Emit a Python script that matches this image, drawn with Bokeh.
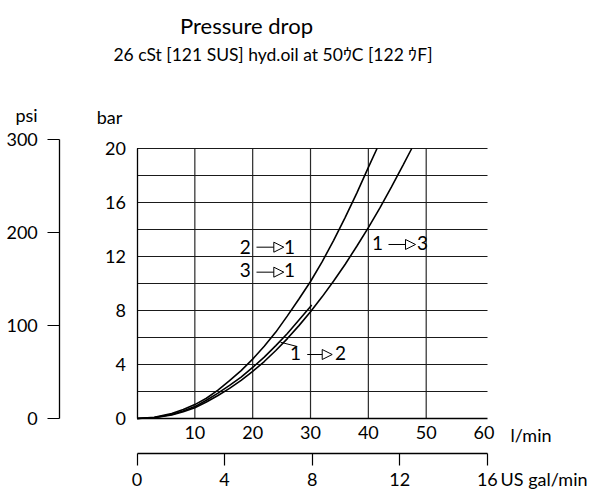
from bokeh.plotting import figure
from bokeh.models import Range1d, LinearAxis, FixedTicker, Label, Arrow, NormalHead
from bokeh.embed import file_html
from bokeh.resources import INLINE

FONT = "Lato"

title_text = "Pressure drop"
subtitle_text = "26 cSt [121 SUS] hyd.oil at 50ｳC [122 ｳF]"

# Flow (l/min) vs pressure drop (bar)
flow_2_1 = [0, 3, 6, 8, 10, 12, 14, 16, 18, 20, 22, 24, 26, 28, 30, 32, 34, 36, 38, 40, 41.5]
dp_2_1 = [0, 0.09, 0.37, 0.66, 1.03, 1.5, 2.1, 2.8, 3.55, 4.4, 5.35, 6.4, 7.6, 8.85, 10.15,
          11.6, 13.2, 14.9, 16.7, 18.6, 20]

flow_1_2 = [0, 3, 6, 8, 10, 12, 14, 16, 18, 20, 22, 24, 26, 28, 30, 30.2]
dp_1_2 = [0, 0.07, 0.3, 0.55, 0.88, 1.35, 1.88, 2.45, 3.07, 3.78, 4.55, 5.4, 6.3, 7.3, 8.3, 8.4]

flow_1_3 = [0, 3, 6, 8, 10, 12, 14, 16, 18, 20, 22, 24, 26, 28, 30, 32, 34, 36, 38, 40, 42, 44, 46, 47.5]
dp_1_3 = [0, 0.06, 0.26, 0.5, 0.8, 1.22, 1.7, 2.23, 2.82, 3.49, 4.22, 5.04, 5.92, 6.88, 7.91,
          9.01, 10.19, 11.43, 12.76, 14.14, 15.6, 17.15, 18.77, 20]

lmin_ticks = [10, 20, 30, 40, 50, 60]
bar_ticks = [0, 4, 8, 12, 16, 20]
psi_ticks = [0, 100, 200, 300]
gal_ticks = [0, 4, 8, 12, 16]
vgrid_ticks = [10, 20, 30, 40, 50]
hgrid_ticks = [2, 4, 6, 8, 10, 12, 14, 16, 18, 20]

L_PER_GAL = 3.785411784
PSI_PER_BAR = 14.5038

# plot area extent (l/min, bar)
X_END = 60.6
Y_END = 20
# visible window around the plot area, in data units
X_LO, X_HI = -23.6, 78.925
Y_LO, Y_HI = -5.4815, 30.963

W, H = 593, 492
PX_PER_BAR = H / (Y_HI - Y_LO)

p = figure(width=W, height=H, output_backend="svg", toolbar_location=None,
           x_range=Range1d(X_LO, X_HI), y_range=Range1d(Y_LO, Y_HI),
           min_border=0, min_border_left=0, min_border_right=0, min_border_top=0, min_border_bottom=0,
           x_axis_location=None, y_axis_location=None, title=None)
p.outline_line_color = None
p.background_fill_color = "white"
p.border_fill_color = "white"
p.xgrid.visible = False
p.ygrid.visible = False

p.extra_x_ranges = {"gal": Range1d(X_LO / L_PER_GAL, X_HI / L_PER_GAL)}
p.extra_y_ranges = {"psi": Range1d(Y_LO * PSI_PER_BAR, Y_HI * PSI_PER_BAR)}

common = dict(major_label_text_font=FONT, major_label_text_font_size="18px",
              major_label_text_color="black", axis_line_color="black", axis_line_width=1.3,
              major_tick_line_color="black", major_tick_line_width=1.2,
              minor_tick_out=0, minor_tick_in=0, major_tick_in=0)

ax_bar = LinearAxis(ticker=FixedTicker(ticks=bar_ticks), fixed_location=0, bounds=(0, Y_END),
                    major_tick_out=0, major_label_standoff=11, **common)
ax_psi = LinearAxis(y_range_name="psi", ticker=FixedTicker(ticks=psi_ticks), fixed_location=-13.35,
                    bounds=(0, 300), major_tick_out=12, major_label_standoff=10, **common)
p.add_layout(ax_bar, "left")
p.add_layout(ax_psi, "left")

ax_l = LinearAxis(ticker=FixedTicker(ticks=lmin_ticks), fixed_location=0, bounds=(0, X_END),
                  major_tick_out=0, major_label_standoff=8, **common)
ax_g = LinearAxis(x_range_name="gal", ticker=FixedTicker(ticks=gal_ticks), fixed_location=-2.615,
                  bounds=(0, 16), major_tick_out=12, major_label_standoff=7, **common)
p.add_layout(ax_l, "below")
p.add_layout(ax_g, "below")

# grid lines of the plot area
p.segment(x0=vgrid_ticks, y0=[0] * len(vgrid_ticks), x1=vgrid_ticks, y1=[Y_END] * len(vgrid_ticks),
          line_color="#2a2a2a", line_width=1.2)
p.segment(x0=[0] * len(hgrid_ticks), y0=hgrid_ticks, x1=[X_END] * len(hgrid_ticks), y1=hgrid_ticks,
          line_color="#1a1a1a", line_width=1.2)

for xs, ys in [(flow_2_1, dp_2_1), (flow_1_2, dp_1_2), (flow_1_3, dp_1_3)]:
    p.line(xs, ys, line_color="black", line_width=1.6)


def lab(x, y, t, size=18, align="center"):
    # baseline y given in data units; small correction for the renderer's baseline placement
    p.add_layout(Label(x=x, y=y + 0.37 * size / PX_PER_BAR, text=t, text_font=FONT,
                       text_font_size=f"{size}px", text_color="black",
                       text_align=align, text_baseline="alphabetic"))


def arrow(x0, x1, y):
    p.add_layout(Arrow(end=NormalHead(size=10, fill_color="white", line_color="black", line_width=1),
                       x_start=x0, y_start=y, x_end=x1, y_end=y, line_color="black", line_width=1))


# titles
lab(18.93, 28.52, title_text, size=22)
lab(23.51, 26.48, subtitle_text, size=17.5)
# axis names
lab(-19.1, 22.0, "psi")
lab(-4.75, 21.85, "bar")
lab(64.57, -1.68, "l/min", align="left")
lab(62.85, -4.95, "US gal/min", align="left")

# flow direction labels
for (x_a, x0, x1, x_b, y_txt, y_arr, ta, tb) in [
        (18.71, 20.66, 25.38, 26.37, 12.2, 12.69, "2", "1"),
        (18.71, 20.66, 25.38, 26.37, 10.47, 10.84, "3", "1"),
        (41.58, 43.48, 48.15, 49.36, 12.5, 12.89, "1", "3"),
        (27.4, 29.43, 33.75, 35.18, 4.3, 4.74, "1", "2")]:
    lab(x_a, y_txt, ta, size=19)
    lab(x_b, y_txt, tb, size=19)
    arrow(x0, x1, y_arr)

p.add_layout(Arrow(end=None, x_start=24.81, y_start=5.65, x_end=27.7, y_end=5.33,
                   line_color="black", line_width=1))

open("out.html", "w").write(file_html(p, INLINE))
